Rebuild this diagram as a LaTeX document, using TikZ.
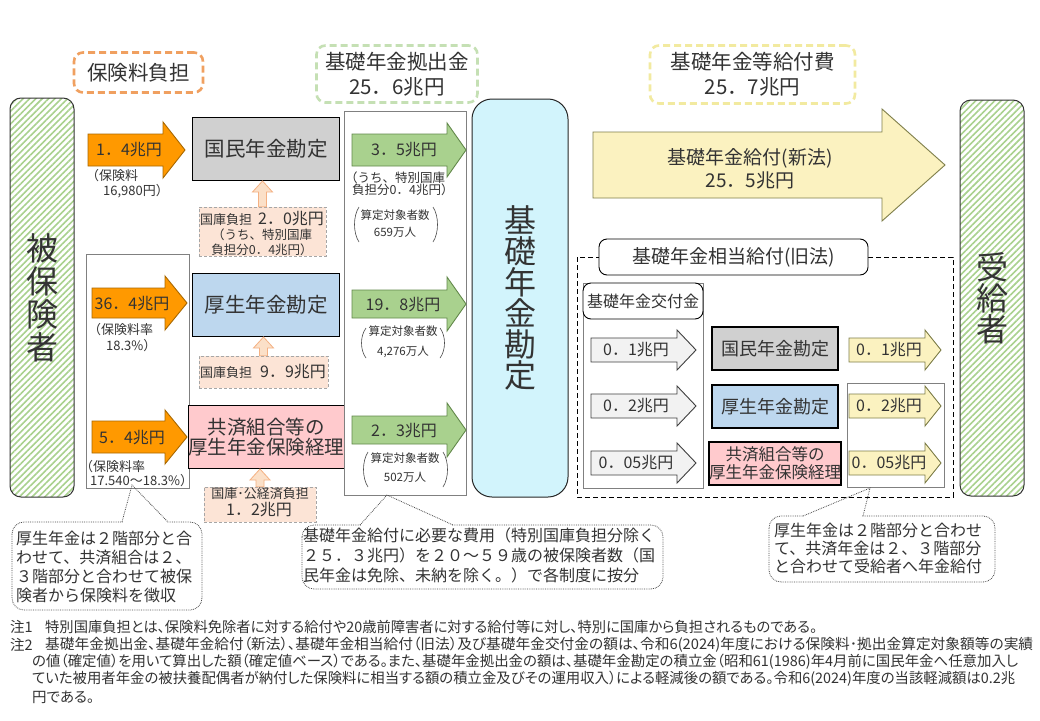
\documentclass[tikz,border=0pt]{standalone}
\usepackage{graphicx}
\usepackage{fontspec}
\setmainfont{Noto Sans CJK JP}
\newfontfamily\notefont[RawFeature=+palt]{Noto Sans CJK JP}
\usetikzlibrary{patterns.meta,calc}
\definecolor{txtc}{HTML}{333333}
\definecolor{orF}{HTML}{FF9900}
\definecolor{orB}{HTML}{A86800}
\definecolor{grayBox}{HTML}{D0D0D0}
\definecolor{blueBox}{HTML}{BDD7EE}
\definecolor{pinkBox}{HTML}{FFCACD}
\definecolor{peachF}{HTML}{FCE4D6}
\definecolor{peachB}{HTML}{A6A6A6}
\definecolor{peachArF}{HTML}{FBE0C8}
\definecolor{peachArB}{HTML}{F4B183}
\definecolor{grnF}{HTML}{A9D18E}
\definecolor{grnB}{HTML}{62884A}
\definecolor{cyanF}{HTML}{D2F4FC}
\definecolor{ylwF}{HTML}{FBF2C0}
\definecolor{ylwB}{HTML}{7F7F4A}
\definecolor{ltgF}{HTML}{F2F2F2}
\definecolor{hatchc}{HTML}{A9D18E}
\definecolor{dashOr}{HTML}{F0A060}
\definecolor{dashGr}{HTML}{C5E0B4}
\definecolor{dashYl}{HTML}{F2EAA0}
\newcommand\fsz[2]{\fontsize{#1pt}{#2pt}\selectfont}
\newcommand\fitw[2]{\resizebox{#1}{\height}{#2}}
\newcommand\farrow[7]{\filldraw[#1] (#2,{#5-#6}) -- (#3,{#5-#6}) -- (#3,{#5-#7}) -- (#4,#5) -- (#3,{#5+#7}) -- (#3,{#5+#6}) -- (#2,{#5+#6}) -- cycle;}
\newcommand\peacharrow[2]{\filldraw[peacharr] let \p1=(#1.north), \p2=(#2.south) in (\x1-4pt,\y1) -- (\x1-4pt,\y2-11pt) -- (\x1-10pt,\y2-11pt) -- (\x1,\y2) -- (\x1+10pt,\y2-11pt) -- (\x1+4pt,\y2-11pt) -- (\x1+4pt,\y1) -- cycle;}
\newcommand\mycallout[8]{%
 \draw[cbox] (#1,#2) rectangle (#3,#4);
 \fill[white] ({#5+0.6},{#2-1.2}) rectangle ({#6-0.6},{#2+1.2});
 \draw[cline] (#5,#2) -- (#7,#8) -- (#6,#2);}
\tikzset{
 every node/.style={text=txtc},
 lbl/.style={inner sep=0pt, align=center},
 acct/.style={draw=black, line width=1pt, inner sep=0pt, align=center, minimum width=147pt, minimum height=63pt},
 sacct/.style={draw=black, line width=2.2pt, inner sep=0pt, align=center, minimum width=126pt, minimum height=43pt},
 hdr/.style={rounded corners=9pt, line width=2.6pt, dash pattern=on 7pt off 4pt, inner sep=0pt, align=center},
 peachbox/.style={fill=peachF, draw=peachB, densely dashed, line width=0.6pt, inner sep=0pt},
 peacharr/.style={fill=peachArF, draw=peachArB, line width=0.8pt},
 orarr/.style={fill=orF, draw=orB, line width=0.9pt},
 grarr/.style={fill=grnF, draw=grnB, line width=0.9pt},
 ylarr/.style={fill=ylwF, draw=ylwB, line width=0.9pt},
 lgarr/.style={fill=ltgF, draw=black!75, line width=0.9pt},
 thinbox/.style={draw=black!50, line width=0.7pt},
 hatchbox/.style={draw=black!80, line width=1pt, rounded corners=11pt, pattern={Lines[angle=45,distance=4.5pt,line width=1.6pt]}, pattern color=hatchc, inner sep=0pt, align=center},
 cbox/.style={draw=black!70, densely dotted, line width=0.8pt, rounded corners=12pt, fill=white},
 cline/.style={draw=black!70, densely dotted, line width=0.8pt},
 note/.style={inner sep=0pt, anchor=west, font=\notefont\fsz{14.5}{16}},
 paren/.style={draw=black!70, line width=0.6pt},
}
\begin{document}
\begin{tikzpicture}[x=1pt,y=-1pt]
\useasboundingbox[fill=white] (0,0) rectangle (1040,720);

% ---------- header boxes
\node[hdr, draw=dashOr, minimum width=129pt, minimum height=40pt, font=\fsz{20.5}{24}] (hoken) at (138.5,72.5) {保険料負担};
\node[hdr, draw=dashGr, minimum width=161pt, minimum height=57pt, font=\fsz{20.5}{25}] (kyoshutsu) at (397,74) {基礎年金拠出金\\25．6兆円};
\node[hdr, draw=dashYl, minimum width=205pt, minimum height=58pt, font=\fsz{20.5}{25}] (kyufuhi) at (752.5,74.5) {基礎年金等給付費\\25．7兆円};

% ---------- hatched side boxes
\node[hatchbox, minimum width=64pt, minimum height=399pt, font=\fsz{32}{33}] (hihoken) at (42,297.5) {被\\保\\険\\者};
\node[hatchbox, minimum width=64pt, minimum height=396pt, font=\fsz{32}{31}] (jukyu) at (992,298) {受\\給\\者};

% ---------- insured -> accounts
\draw[thinbox] (86,254) rectangle (189,488);
\farrow{orarr}{88}{163}{185}{150}{16}{28}
\farrow{orarr}{92}{165}{187}{303}{15}{27}
\farrow{orarr}{92}{165}{187}{437}{16}{27}
\node[lbl, font=\fsz{16}{18}] (o1) at (129,150) {1．4兆円};
\node[lbl, font=\fsz{16}{18}] (o2) at (132,304) {36．4兆円};
\node[lbl, font=\fsz{16}{18}] (o3) at (132,438) {5．4兆円};
\node[lbl, anchor=west, font=\fsz{13}{15}] (s1a) at (86,176) {（保険料};
\node[lbl, anchor=west, font=\fsz{13}{15}] (s1b) at (103,191) {16,980円）};
\node[lbl, anchor=west, font=\fsz{13}{15}] (s2a) at (88,330) {（保険料率};
\node[lbl, anchor=west, font=\fsz{13}{15}] (s2b) at (106,346) {18.3\%）};
\node[lbl, anchor=west, font=\fsz{13}{15}] (s3a) at (80,467) {（保険料率};
\node[lbl, anchor=west, font=\fsz{13}{15}] (s3b) at (90,481) {17.540～18.3\%）};

% ---------- accounts
\node[acct, fill=grayBox, font=\fsz{20.5}{24}] (kokumin) at (266,149) {国民年金勘定};
\node[acct, fill=blueBox, font=\fsz{20.5}{24}] (kosei) at (266,305) {厚生年金勘定};
\node[acct, fill=pinkBox, font=\fsz{19.5}{20.5}] (kyosai) at (266,437) {共済組合等の\\厚生年金保険経理};

% ---------- state burden
\node[peachbox, minimum width=127pt, minimum height=49pt] (kk1) at (262.5,231.5) {};
\node[peachbox, minimum width=129pt, minimum height=32pt] (kk2) at (263.5,372) {};
\node[peachbox, minimum width=112pt, minimum height=35pt] (kk3) at (260,504.5) {};
\peacharrow{kk1}{kokumin}
\peacharrow{kk2}{kosei}
\peacharrow{kk3}{kyosai}
\node[lbl] (kk1a) at (262,219) {{\fsz{13}{15}国庫負担}\hspace{6pt}{\fsz{16}{18}2．0兆円}};
\node[lbl, font=\fsz{12.5}{14}] (kk1b) at (262,235) {（うち、特別国庫};
\node[lbl, font=\fsz{12.5}{14}] (kk1c) at (262,250) {負担分0．4兆円）};
\node[lbl] (kk2a) at (263,372) {{\fsz{13}{15}国庫負担}\hspace{8pt}{\fsz{16}{18}9．9兆円}};
\node[lbl, font=\fsz{13}{15}] (kk3a) at (260,494) {国庫･公経済負担};
\node[lbl, font=\fsz{16}{18}] (kk3b) at (259,510) {1．2兆円};

% ---------- contributions
\draw[thinbox] (344,111) rectangle (466,495);
\farrow{grarr}{352}{447}{466}{150}{16}{27}
\farrow{grarr}{352}{447}{466}{304}{14}{27}
\farrow{grarr}{352}{447}{466}{430}{14}{27}
\node[lbl, font=\fsz{16}{18}] (g1) at (404,150) {3．5兆円};
\node[lbl, font=\fsz{16}{18}] (g2) at (403,305) {19．8兆円};
\node[lbl, font=\fsz{16}{18}] (g3) at (404,431) {2．3兆円};
\node[lbl, anchor=west, font=\fsz{12.5}{14}] (g1a) at (345,178) {（うち、特別国庫};
\node[lbl, anchor=west, font=\fsz{12.5}{14}] (g1b) at (352,190) {負担分0．4兆円）};
\node[lbl, font=\fsz{11.5}{17}] (c1) at (395,224) {算定対象者数\\659万人};
\node[lbl, font=\fsz{11.5}{20}] (c2) at (403,342) {算定対象者数\\4,276万人};
\node[lbl, font=\fsz{11.5}{19}] (c3) at (405,467.5) {算定対象者数\\502万人};
\draw[paren] (359,207) .. controls (353,216) and (353,233) .. (359,242);
\draw[paren] (433,207) .. controls (439,216) and (439,233) .. (433,242);
\draw[paren] (366,328) .. controls (360,336) and (360,350) .. (366,358);
\draw[paren] (440,328) .. controls (446,336) and (446,350) .. (440,358);
\draw[paren] (368,452) .. controls (362,461) and (362,478) .. (368,487);
\draw[paren] (443,452) .. controls (449,461) and (449,478) .. (443,487);

% ---------- basic pension account
\node[draw=black!85, line width=1pt, fill=cyanF, rounded corners=20pt, minimum width=96pt, minimum height=398pt, inner sep=0pt, align=center, font=\fsz{32}{31}] (kiso) at (520,298) {基\\礎\\年\\金\\勘\\定};

% ---------- new-law benefit
\farrow{ylarr}{593}{882}{945}{165}{33}{56}
\node[lbl, font=\fsz{19}{23}] (shinpo) at (750,169) {基礎年金給付(新法)\\25．5兆円};

% ---------- old-law benefit
\draw[dashed, line width=0.9pt, dash pattern=on 5pt off 3pt] (577,257) rectangle (953,497);
\node[draw=black, line width=0.9pt, fill=white, rounded corners=8pt, minimum width=269pt, minimum height=36pt, inner sep=0pt, font=\fsz{19}{22}] (kyuho) at (733.5,257) {基礎年金相当給付(旧法)};
\draw[thinbox] (583,283) rectangle (703,488);
\node[draw=black, line width=0.9pt, fill=white, rounded corners=8pt, minimum width=120pt, minimum height=36pt, inner sep=0pt, font=\fsz{16}{18}] (kofu) at (643,301) {基礎年金交付金};
\farrow{lgarr}{591}{677}{696}{350}{12}{20}
\farrow{lgarr}{591}{677}{696}{406}{12}{20}
\farrow{lgarr}{591}{677}{696}{463}{12}{20}
\node[lbl, font=\fsz{16}{18}] (k1) at (636,350) {0．1兆円};
\node[lbl, font=\fsz{16}{18}] (k2) at (636,406) {0．2兆円};
\node[lbl, font=\fsz{16}{18}] (k3) at (636,463) {0．05兆円};
\node[sacct, fill=grayBox, font=\fsz{18}{20}] (skokumin) at (775,348.5) {国民年金勘定};
\node[sacct, fill=blueBox, font=\fsz{18}{20}] (skosei) at (775,406.5) {厚生年金勘定};
\node[sacct, fill=pinkBox, font=\fsz{16.5}{18}] (skyosai) at (775,463.5) {共済組合等の\\厚生年金保険経理};
\draw[thinbox] (847,383) rectangle (944,487);
\farrow{ylarr}{849}{925}{941}{350}{12}{20}
\farrow{ylarr}{849}{925}{941}{406}{12}{20}
\farrow{ylarr}{849}{925}{941}{463}{12}{20}
\node[lbl, font=\fsz{16}{18}] (y1) at (889,350) {0．1兆円};
\node[lbl, font=\fsz{16}{18}] (y2) at (889,406) {0．2兆円};
\node[lbl, font=\fsz{16}{18}] (y3) at (889,463) {0．05兆円};

% ---------- callouts
\mycallout{12}{522}{202}{610}{122}{168}{132}{485}
\node[lbl, align=left, anchor=north west, font=\fsz{16}{19}] (cl) at (16,531) {厚生年金は２階部分と合\\わせて、共済組合は２、\\３階部分と合わせて被保\\険者から保険料を徴収};
\mycallout{302}{525}{663}{589}{360}{453}{387}{495}
\node[lbl, align=left, anchor=north west, font=\fsz{16}{20}] (cm) at (303,528) {基礎年金給付に必要な費用（特別国庫負担分除く\\２５．３兆円）を２０～５９歳の被保険者数（国\\民年金は免除、未納を除く。）で各制度に按分};
\mycallout{769}{516}{995}{582}{803}{863}{870}{488}
\node[lbl, align=left, anchor=north west, font=\fsz{16}{18}] (cr) at (774,523) {厚生年金は２階部分と合わせ\\て、共済年金は２、３階部分\\と合わせて受給者へ年金給付};

% ---------- notes
\node[note] (n1a) at (10,627) {注1};
\node[note] (n1b) at (45,627) {\fitw{772pt}{特別国庫負担とは、保険料免除者に対する給付や20歳前障害者に対する給付等に対し、特別に国庫から負担されるものである。}};
\node[note] (n2a) at (10,645) {注2};
\node[note] (n2b) at (45,645) {\fitw{988pt}{基礎年金拠出金、基礎年金給付（新法）、基礎年金相当給付（旧法）及び基礎年金交付金の額は、令和6(2024)年度における保険料･拠出金算定対象額等の実績}};
\node[note] (n2c) at (32,662) {\fitw{986pt}{の値（確定値）を用いて算出した額（確定値ベース）である。また、基礎年金拠出金の額は、基礎年金勘定の積立金（昭和61(1986)年4月前に国民年金へ任意加入し}};
\node[note] (n2d) at (32,679) {\fitw{983pt}{ていた被用者年金の被扶養配偶者が納付した保険料に相当する額の積立金及びその運用収入）による軽減後の額である。令和6(2024)年度の当該軽減額は0.2兆}};
\node[note] (n2e) at (32,697) {円である。};
\end{tikzpicture}
\end{document}
